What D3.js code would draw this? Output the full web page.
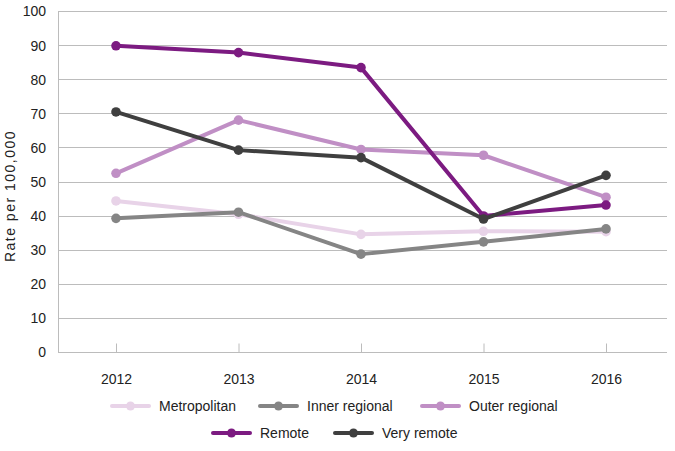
<!DOCTYPE html>
<html>
<head>
<meta charset="utf-8">
<script src="https://cdn.jsdelivr.net/npm/d3@7"></script>
<style>
  body { margin: 0; background: #fff; }
  svg { display: block; font-family: "Liberation Sans", Arial, sans-serif; }
</style>
</head>
<body>
<svg id="chart" width="675" height="451"></svg>
<script>
const years = ["2012", "2013", "2014", "2015", "2016"];
const yTicks = [0, 10, 20, 30, 40, 50, 60, 70, 80, 90, 100];
const seriesNames = ["Metropolitan", "Inner regional", "Outer regional", "Remote", "Very remote"];
const metropolitan = [44.3, 40.4, 34.5, 35.4, 35.3];
const innerRegional = [39.2, 41.0, 28.7, 32.3, 36.1];
const outerRegional = [52.4, 68.0, 59.4, 57.7, 45.4];
const remote = [89.8, 87.8, 83.4, 39.9, 43.1];
const veryRemote = [70.4, 59.2, 57.0, 39.0, 51.8];
const colors = ["#e8d3e8", "#858585", "#c08fc5", "#7c1b81", "#3f3f3f"];

const series = [metropolitan, innerRegional, outerRegional, remote, veryRemote]
  .map((vals, i) => ({ name: seriesNames[i], color: colors[i], values: vals }));

const svg = d3.select("#chart");
const plotLeft = 58, plotRight = 667, plotTop = 11, plotBottom = 352;
const FONT = "Liberation Sans, Arial, sans-serif";

const x = d3.scalePoint().domain(years).range([116, 606]);
const y = d3.scaleLinear().domain([0, 100]).range([plotBottom, plotTop]);

// gridlines
svg.append("g").selectAll("line").data(yTicks).join("line")
  .attr("x1", plotLeft).attr("x2", plotRight)
  .attr("y1", d => Math.round(y(d)) + 0.5).attr("y2", d => Math.round(y(d)) + 0.5)
  .attr("stroke", "#bcbcbc").attr("stroke-width", 1);

// left axis line
svg.append("line")
  .attr("x1", plotLeft + 0.5).attr("x2", plotLeft + 0.5)
  .attr("y1", plotTop).attr("y2", plotBottom)
  .attr("stroke", "#bcbcbc");

// y tick labels
const yAxis = d3.axisLeft(y).tickValues(yTicks).tickSize(0).tickPadding(12);
const gy = svg.append("g").attr("transform", `translate(${plotLeft},0.5)`).call(yAxis);
gy.select(".domain").remove();
gy.attr("font-size", 14).attr("font-family", FONT);
gy.selectAll("text").attr("fill", "#222");

// x axis: ticks up from baseline at category positions
const xAxis = d3.axisBottom(x).tickSize(-9).tickPadding(22);
const gx = svg.append("g").attr("transform", `translate(0,${Math.round(y(0)) + 0.5})`).call(xAxis);
gx.select(".domain").remove();
gx.attr("font-size", 14).attr("font-family", FONT);
gx.selectAll(".tick line").attr("stroke", "#bcbcbc");
gx.selectAll("text").attr("fill", "#222");

// y axis title
svg.append("text")
  .attr("transform", `translate(15,196) rotate(-90)`)
  .attr("text-anchor", "middle")
  .attr("font-size", 14).attr("fill", "#222")
  .attr("letter-spacing", "1.5px")
  .text("Rate per 100,000");

// lines
const line = d3.line().x((d, i) => x(years[i])).y(d => y(d));
const gs = svg.append("g").selectAll("g").data(series).join("g");
gs.append("path")
  .attr("d", d => line(d.values))
  .attr("fill", "none").attr("stroke", d => d.color)
  .attr("stroke-width", 4).attr("stroke-linejoin", "round");
gs.selectAll("circle").data(d => d.values.map(v => ({ v, c: d.color }))).join("circle")
  .attr("cx", (d, i) => x(years[i])).attr("cy", d => y(d.v))
  .attr("r", 4.8).attr("fill", d => d.c);

// legend
const legendPos = [
  { lx: 112, ly: 406 }, { lx: 260, ly: 406 }, { lx: 422, ly: 406 },
  { lx: 213, ly: 433 }, { lx: 335, ly: 433 }
];
const lg = svg.append("g").selectAll("g").data(series).join("g")
  .attr("transform", (d, i) => `translate(${legendPos[i].lx},${legendPos[i].ly})`);
lg.append("line").attr("x1", 0).attr("x2", 37).attr("y1", 0).attr("y2", 0)
  .attr("stroke", d => d.color).attr("stroke-width", 4).attr("stroke-linecap", "round");
lg.append("circle").attr("cx", 18.5).attr("cy", 0).attr("r", 4.5).attr("fill", d => d.color);
lg.append("text").attr("x", 47).attr("y", 0).attr("dy", "0.35em")
  .attr("font-size", 14).attr("fill", "#222").text(d => d.name);
</script>
</body>
</html>
